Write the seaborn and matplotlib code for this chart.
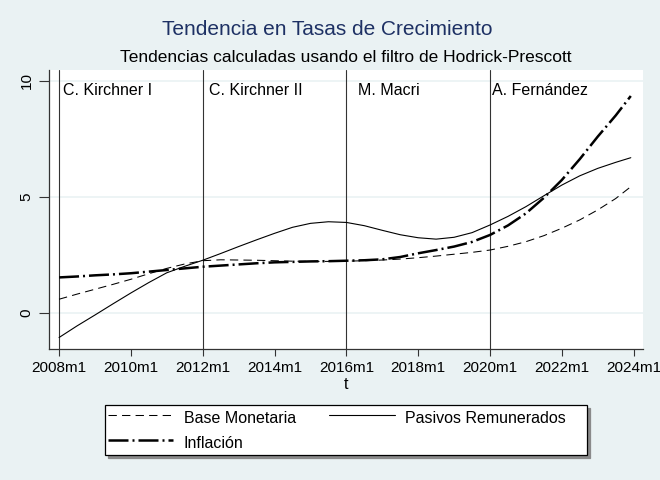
import numpy as np
import pandas as pd
import matplotlib
matplotlib.use("Agg")
import matplotlib.pyplot as plt
import seaborn as sns

# ---- Data (HP-filter trends, half-yearly) ----
t = [2008.0, 2008.5, 2009.0, 2009.5, 2010.0, 2010.5, 2011.0, 2011.5,
     2012.0, 2012.5, 2013.0, 2013.5, 2014.0, 2014.5, 2015.0, 2015.5,
     2016.0, 2016.5, 2017.0, 2017.5, 2018.0, 2018.5, 2019.0, 2019.5,
     2020.0, 2020.5, 2021.0, 2021.5, 2022.0, 2022.5, 2023.0, 2023.5, 2023.92]
base_monetaria = [0.58, 0.80, 1.01, 1.22, 1.44, 1.68, 1.91, 2.10,
                  2.24, 2.28, 2.27, 2.26, 2.24, 2.22, 2.21, 2.21,
                  2.22, 2.24, 2.27, 2.31, 2.37, 2.44, 2.52, 2.60,
                  2.70, 2.86, 3.06, 3.32, 3.64, 4.00, 4.43, 4.92, 5.43]
pasivos_remunerados = [-1.07, -0.57, -0.10, 0.38, 0.85, 1.30, 1.72, 2.00,
                       2.26, 2.55, 2.85, 3.14, 3.42, 3.68, 3.85, 3.92,
                       3.89, 3.75, 3.55, 3.36, 3.23, 3.17, 3.25, 3.45,
                       3.78, 4.15, 4.57, 5.04, 5.50, 5.90, 6.22, 6.48, 6.68]
inflacion = [1.52, 1.56, 1.61, 1.65, 1.70, 1.77, 1.84, 1.91,
             1.98, 2.03, 2.08, 2.13, 2.17, 2.19, 2.21, 2.22,
             2.24, 2.26, 2.30, 2.40, 2.56, 2.70, 2.85, 3.05,
             3.35, 3.76, 4.28, 4.95, 5.72, 6.62, 7.59, 8.50, 9.34]

xtick_years  = [2008, 2010, 2012, 2014, 2016, 2018, 2020, 2022, 2024]
xtick_labels = [f"{y}m1" for y in xtick_years]
ytick_values = [0, 5, 10]

gobiernos       = ["C. Kirchner I", "C. Kirchner II", "M. Macri", "A. Fernández"]
inicio_gobierno = [2008, 2012, 2016, 2020]
texto_x         = [2008.12, 2012.17, 2016.33, 2020.05]
texto_y         = 9.4

df = pd.DataFrame({"t": t,
                   "Base Monetaria": base_monetaria,
                   "Pasivos Remunerados": pasivos_remunerados,
                   "Inflación": inflacion})

# ---- Style ----------------------------------------------------------------
BG = "#EAF2F3"
sns.set_theme(style="white")
plt.rcParams['font.family'] = ['Liberation Sans', 'DejaVu Sans']
plt.rcParams['text.color'] = 'black'
plt.rcParams['axes.labelcolor'] = 'black'
plt.rcParams['xtick.color'] = 'black'
plt.rcParams['ytick.color'] = 'black'

fig = plt.figure(figsize=(6.6, 4.8), dpi=100, facecolor=BG)
ax = fig.add_axes([49/660, 1 - 349/480, 594/660, 279/480])
ax.set_facecolor("white")

estilos = {
    "Base Monetaria":      dict(linestyle=(0, (8, 5)), lw=0.75),
    "Pasivos Remunerados": dict(linestyle="-", lw=0.8),
    "Inflación":           dict(linestyle=(0, (8, 1.6, 0.8, 1.6)), lw=1.8),
}
for serie, kw in estilos.items():
    sns.lineplot(data=df, x="t", y=serie, ax=ax, color="black",
                 label=serie, errorbar=None, **kw)

# period separators and labels
for x0 in inicio_gobierno:
    ax.axvline(x0, color="#333333", lw=0.8, zorder=1)
for nombre, xt in zip(gobiernos, texto_x):
    ax.text(xt, texto_y, nombre, fontsize=11.5, va="baseline", ha="left")

ax.set_xlim(2007.72, 2024.26)
ax.set_ylim(-1.565, 10.46)
ax.set_xticks(xtick_years)
ax.set_xticklabels(xtick_labels)
ax.set_yticks(ytick_values)
ax.yaxis.grid(True, color=BG, lw=1.2)
ax.xaxis.grid(False)
ax.set_axisbelow(True)

ax.tick_params(axis="x", length=5, width=0.8, color="#333333", pad=4,
               labelsize=11, labelcolor="black", bottom=True)
ax.tick_params(axis="y", length=7, width=0.8, color="#333333", pad=4,
               labelsize=11, labelcolor="black", labelrotation=90, left=True)
for lab in ax.get_yticklabels():
    lab.set_va("center")

for side in ["top", "right"]:
    ax.spines[side].set_visible(False)
for side in ["left", "bottom"]:
    ax.spines[side].set_color("#333333")
    ax.spines[side].set_linewidth(0.9)

ax.set_xlabel("t", fontsize=11.5, labelpad=1)
ax.set_ylabel("")

# titles
fig.text(327/660, 1 - 35/480, "Tendencia en Tasas de Crecimiento",
         fontsize=15, color="#1e3164", ha="center", va="baseline")
fig.text(346/660, 1 - 62/480,
         "Tendencias calculadas usando el filtro de Hodrick-Prescott",
         fontsize=12.5, color="black", ha="center", va="baseline")

# legend: Base / Inflación in first column, Pasivos in second
handles, labels = ax.get_legend_handles_labels()
ax.get_legend().remove()
orden = [labels.index("Base Monetaria"), labels.index("Inflación"),
         labels.index("Pasivos Remunerados")]
etiquetas = [labels[i] for i in orden]
etiquetas[2] = etiquetas[2] + "    "   # Stata leaves extra room on the right
leg = fig.legend([handles[i] for i in orden], etiquetas,
                 ncol=2, loc="center", bbox_to_anchor=(346/660, 1 - 430/480),
                 fontsize=11.5, handlelength=4.1, handleheight=1.5,
                 handletextpad=0.65, columnspacing=2.1, labelspacing=0.32,
                 borderpad=0.2, borderaxespad=0, frameon=True, fancybox=False,
                 shadow={"color": "#8a8a8a", "alpha": 1})
leg.get_frame().set_edgecolor("black")
leg.get_frame().set_linewidth(0.9)
leg.get_frame().set_facecolor("white")
for txt in leg.get_texts():
    txt.set_color("black")

fig.savefig("out.png", dpi=100, facecolor=BG)
